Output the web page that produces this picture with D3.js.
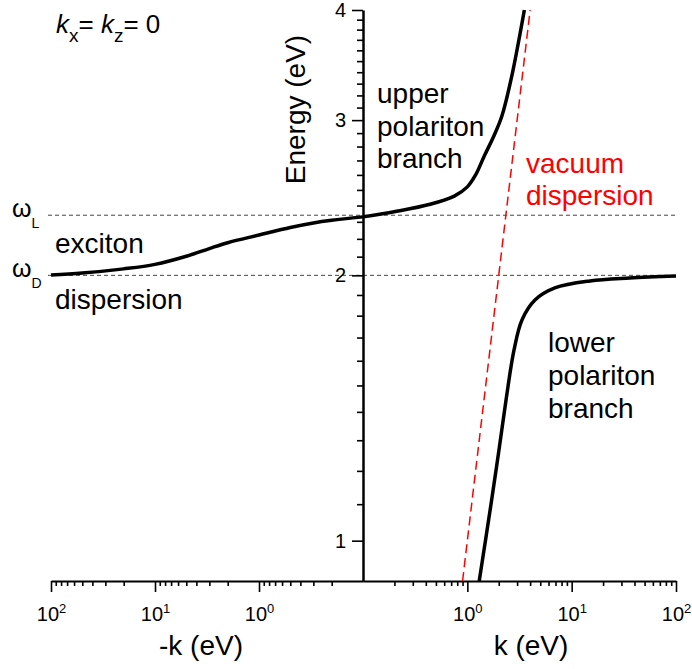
<!DOCTYPE html>
<html>
<head>
<meta charset="utf-8">
<script src="https://cdn.jsdelivr.net/npm/d3@7"></script>
<style>
  html, body { margin: 0; padding: 0; background: #fff; }
  svg { display: block; font-family: "Liberation Sans", Arial, sans-serif; }
</style>
</head>
<body>
<svg id="chart" width="692" height="669"></svg>
<script>
// ---------- data ----------
const excitonK = [100, 50, 20, 10, 5, 3, 2, 1, 0.5, 0.3, 0.2, 0.1];
const excitonE = [2.002, 2.012, 2.034, 2.058, 2.102, 2.145, 2.178, 2.222, 2.266, 2.293, 2.309, 2.33];

const upperK = [0.1, 0.21, 0.44, 0.75, 1.0, 1.2, 1.45, 1.8, 2.14, 2.66, 3.52];
const upperE = [2.33, 2.364, 2.408, 2.46, 2.52, 2.60, 2.73, 2.88, 3.03, 3.361, 4.0];

const lowerK = [1.30, 1.71, 2.01, 2.35, 2.80, 3.34, 4.45, 6.9, 15.0, 36, 100];
const lowerE = [0.9, 1.112, 1.267, 1.444, 1.645, 1.780, 1.875, 1.935, 1.971, 1.986, 1.996];

const vacuumK = [0.9, 4.0];
const vacuumE = [0.9, 4.0];

const omegaL = 2.34;
const omegaD = 2.0;

const leftTicks = [100, 90, 80, 70, 60, 50, 40, 30, 20, 10, 9, 8, 7, 6, 5, 4, 3, 2, 1, 0.9, 0.8, 0.7, 0.6, 0.5, 0.4, 0.3, 0.2];
const rightTicks = [0.2, 0.3, 0.4, 0.5, 0.6, 0.7, 0.8, 0.9, 1, 2, 3, 4, 5, 6, 7, 8, 9, 10, 20, 30, 40, 50, 60, 70, 80, 90, 100];
const xMajor = [1, 10, 100];
const xMajorExp = {"100": "2", "10": "1", "1": "0"};
const yTicks = [1, 1.1, 1.2, 1.3, 1.4, 1.5, 1.6, 1.7, 1.8, 1.9, 2, 2.1, 2.2, 2.3, 2.4, 2.5, 2.6, 2.7, 2.8, 2.9, 3, 3.1, 3.2, 3.3, 3.4, 3.5, 3.6, 3.7, 3.8, 3.9, 4];
const yMajor = [1, 2, 3, 4];

// ---------- scales ----------
const axisX = 363, axisY = 581;
const xL = d3.scaleLog().domain([100, 0.1]).range([51, axisX]);
const xR = d3.scaleLog().domain([0.1, 100]).range([axisX, 676]);
const y = d3.scaleLog().domain([0.9, 4]).range([axisY, 10]);

const svg = d3.select("#chart");
const isMajor = v => xMajor.some(m => Math.abs(m - v) < 1e-9);

// ---------- dashed reference lines ----------
[omegaL, omegaD].forEach(e => {
  svg.append("line")
    .attr("x1", 48).attr("x2", 676)
    .attr("y1", y(e)).attr("y2", y(e))
    .attr("stroke", "#444").attr("stroke-width", 1)
    .attr("stroke-dasharray", "4,3");
});

// ---------- axes ----------
function styleXAxis(g) {
  g.select(".domain").attr("stroke", "#000").attr("stroke-width", 2);
  g.selectAll(".tick line").attr("stroke", "#000").attr("stroke-width", 1.6)
    .attr("y2", d => isMajor(d) ? 11 : 5);
  g.selectAll(".tick text").remove();
  g.selectAll(".tick").filter(d => isMajor(d)).append("text")
    .attr("y", 40).attr("text-anchor", "middle")
    .attr("font-size", 20).attr("fill", "#000")
    .text("10")
    .append("tspan").attr("dy", -8).attr("font-size", 13)
    .text(d => xMajorExp[String(d)]);
}

svg.append("g").attr("transform", `translate(0,${axisY})`)
  .call(d3.axisBottom(xL).tickValues(leftTicks).tickSizeOuter(0))
  .call(styleXAxis);

svg.append("g").attr("transform", `translate(0,${axisY})`)
  .call(d3.axisBottom(xR).tickValues(rightTicks).tickSizeOuter(0))
  .call(styleXAxis);

const yAxisG = svg.append("g").attr("transform", `translate(${axisX},0)`)
  .call(d3.axisLeft(y).tickValues(yTicks).tickSizeOuter(0));
yAxisG.select(".domain").attr("stroke", "#000").attr("stroke-width", 2.5);
yAxisG.selectAll(".tick line").attr("stroke", "#000").attr("stroke-width", 1.6)
  .attr("x2", d => yMajor.some(m => Math.abs(m - d) < 1e-9) ? -11 : -6);
yAxisG.selectAll(".tick text")
  .attr("x", -17).attr("font-size", 20).attr("fill", "#000")
  .attr("font-family", "Liberation Sans, Arial, sans-serif")
  .text(d => yMajor.some(m => Math.abs(m - d) < 1e-9) ? d3.format("d")(d) : "");

// ---------- curves ----------
const curve = d3.curveCatmullRom.alpha(0.5);
const lineL = d3.line().x(d => xL(d[0])).y(d => y(d[1])).curve(curve);
const lineR = d3.line().x(d => xR(d[0])).y(d => y(d[1])).curve(curve);

svg.append("path").datum(d3.zip(vacuumK, vacuumE))
  .attr("d", lineR).attr("fill", "none")
  .attr("stroke", "#ff0000").attr("stroke-width", 1.5)
  .attr("stroke-dasharray", "9,5");

svg.append("path").datum(d3.zip(excitonK, excitonE))
  .attr("d", lineL).attr("fill", "none")
  .attr("stroke", "#000").attr("stroke-width", 3.5);

svg.append("path").datum(d3.zip(upperK, upperE))
  .attr("d", lineR).attr("fill", "none")
  .attr("stroke", "#000").attr("stroke-width", 3.5);

svg.append("path").datum(d3.zip(lowerK, lowerE))
  .attr("d", lineR).attr("fill", "none")
  .attr("stroke", "#000").attr("stroke-width", 3.5);

// ---------- text ----------
function label(x, yy, txt, opts = {}) {
  return svg.append("text").attr("x", x).attr("y", yy)
    .attr("font-size", opts.size || 28)
    .attr("fill", opts.color || "#000")
    .attr("text-anchor", opts.anchor || "start")
    .text(txt);
}

// title k_x = k_z = 0
const t = svg.append("text").attr("x", 56).attr("y", 33).attr("font-size", 26).attr("fill", "#000");
t.append("tspan").attr("font-style", "italic").text("k");
t.append("tspan").attr("dy", 9).attr("font-size", 19).text("x");
t.append("tspan").attr("dy", -9).text("= ");
t.append("tspan").attr("font-style", "italic").text("k");
t.append("tspan").attr("dy", 9).attr("font-size", 19).text("z");
t.append("tspan").attr("dy", -9).text("= 0");

// omega labels
[[omegaL, "L"], [omegaD, "D"]].forEach(([e, s]) => {
  const w = svg.append("text").attr("x", 12).attr("y", y(e) + 1.5).attr("font-size", 25).attr("fill", "#000");
  w.append("tspan").text("ω");
  w.append("tspan").attr("dy", 11.5).attr("font-size", 14).text(s);
});

label(55, 253, "exciton");
label(55, 309, "dispersion");

label(377, 103, "upper");
label(377, 135.5, "polariton");
label(377, 168, "branch");

label(526, 173, "vacuum", {color: "#ff0000"});
label(526, 205, "dispersion", {color: "#ff0000"});

label(548, 352, "lower");
label(548, 385, "polariton");
label(548, 418, "branch");

// axis titles
label(201, 655, "-k (eV)", {anchor: "middle"});
label(531, 655, "k (eV)", {anchor: "middle"});
svg.append("text").attr("transform", "translate(305,109.5) rotate(-90)")
  .attr("text-anchor", "middle").attr("font-size", 28).attr("fill", "#000")
  .text("Energy (eV)");
</script>
</body>
</html>
